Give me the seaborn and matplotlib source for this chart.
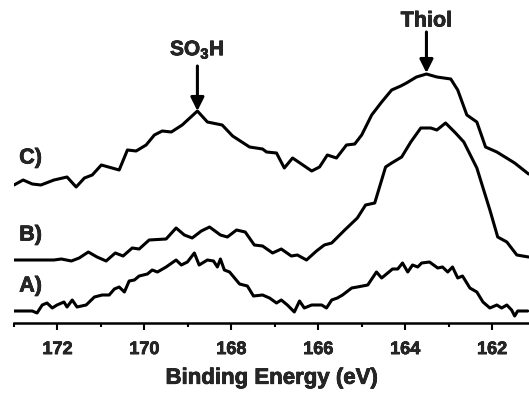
import matplotlib
matplotlib.use("Agg")
import matplotlib.pyplot as plt
import matplotlib.patheffects as pe
import seaborn as sns
import pandas as pd
from matplotlib.ticker import MultipleLocator

# Binding energy (eV) and intensity (arbitrary units, offset traces)
c_ev = [173.00,172.79,172.58,172.38,172.08,171.78,171.57,171.38,171.20,170.99,
        170.58,170.39,170.19,169.96,169.77,169.59,169.38,169.13,168.78,168.55,
        168.21,167.97,167.58,167.28,167.19,166.96,166.78,166.59,166.15,165.97,
        165.79,165.58,165.35,165.16,165.00,164.77,164.54,164.31,164.10,163.97,
        163.74,163.51,163.27,162.95,162.79,162.58,162.35,162.15,161.89,161.48,
        161.16]
c_int = [138,143,139,138,143,146,136,145,148,158,
         153,173,172,178,188,192,191,198,212,201,
         198,187,176,174,171,170,155,165,152,156,
         168,165,178,179,188,208,221,233,237,240,
         246,249,246,244,233,208,201,176,171,160,
         149]

b_ev = [173.00,172.08,171.91,171.68,171.50,171.29,171.09,170.88,170.67,170.49,
        170.28,170.12,169.89,169.50,169.27,169.08,168.90,168.69,168.50,168.25,
        168.09,167.88,167.68,167.47,167.28,167.05,166.85,166.62,166.48,166.27,
        166.04,165.86,165.69,165.39,165.10,164.91,164.70,164.45,164.31,164.08,
        163.87,163.64,163.41,163.27,163.07,162.84,162.65,162.35,162.05,161.87,
        161.66,161.43,161.16]
b_int = [63,63,64,62,65,71,66,62,70,67,
         75,74,83,84,95,88,85,92,96,88,
         86,93,91,78,77,70,74,67,68,63,
         72,78,80,93,105,118,120,156,160,166,
         181,195,195,193,200,190,181,155,113,86,
         81,68,66]

a_ev = [173.00,172.58,172.47,172.35,172.24,172.12,172.01,171.85,171.78,171.66,
        171.55,171.34,171.15,170.97,170.81,170.69,170.58,170.46,170.35,170.23,
        170.12,169.93,169.82,169.70,169.50,169.27,169.15,169.01,168.85,168.74,
        168.55,168.41,168.32,168.25,168.16,168.04,167.81,167.63,167.49,167.28,
        167.12,166.96,166.85,166.71,166.55,166.43,166.32,166.15,165.92,165.81,
        165.69,165.56,165.44,165.23,165.10,164.86,164.66,164.54,164.29,164.17,
        164.06,163.94,163.83,163.71,163.62,163.44,163.25,163.14,163.02,162.91,
        162.79,162.68,162.51,162.35,162.21,162.05,161.89,161.78,161.66,161.55,
        161.48,161.41,161.18]
a_int = [12,12,10,18,20,15,18,21,16,23,
         16,18,26,28,28,34,36,31,42,43,
         47,49,53,51,56,63,58,61,70,58,
         63,62,56,64,53,51,39,37,27,28,
         25,20,23,18,11,22,15,18,18,15,
         23,25,28,35,36,38,51,45,54,54,
         60,51,58,56,60,61,55,56,51,56,
         45,47,35,31,21,15,18,15,18,13,
         7,12,12]

trace_labels = ["A)", "B)", "C)"]
label_y = [37, 88, 165]
xticks = [172, 170, 168, 166, 164, 162]

sns.set_style("white")
plt.rcParams["font.family"] = ["Liberation Sans", "DejaVu Sans"]
plt.rcParams["mathtext.fontset"] = "custom"
plt.rcParams["mathtext.rm"] = "Liberation Sans:bold"
plt.rcParams["mathtext.bf"] = "Liberation Sans:bold"

heavy = [pe.withStroke(linewidth=0.5, foreground="black")]

df = pd.concat([
    pd.DataFrame({"ev": a_ev, "int": a_int, "trace": "A"}),
    pd.DataFrame({"ev": b_ev, "int": b_int, "trace": "B"}),
    pd.DataFrame({"ev": c_ev, "int": c_int, "trace": "C"}),
])

fig = plt.figure(figsize=(5.29, 3.93), dpi=100)
ax = fig.add_axes([14/529, 70/393, 515/529, 323/393])
sns.lineplot(data=df, x="ev", y="int", units="trace", estimator=None,
             color="black", lw=2.2, ax=ax, legend=False)

ax.set_xlim(173.0, 161.15)
ax.set_ylim(0, 323)
for s in ["top", "right", "left"]:
    ax.spines[s].set_visible(False)
ax.spines["bottom"].set_linewidth(1.8)
ax.spines["bottom"].set_color("black")
ax.set_yticks([])
ax.set_xticks(xticks)
ax.set_xticklabels([str(t) for t in xticks], fontsize=13, fontweight="bold")
for t in ax.get_xticklabels():
    t.set_path_effects(heavy)
ax.xaxis.set_minor_locator(MultipleLocator(1))
ax.tick_params(axis="x", which="major", direction="out", length=5, width=1.5,
               pad=8, bottom=True, color="black")
ax.tick_params(axis="x", which="minor", direction="out", length=3, width=1.5,
               bottom=True, color="black")
ax.set_xlabel("Binding Energy (eV)", fontsize=16, fontweight="bold", labelpad=7,
              path_effects=heavy)
ax.set_ylabel("")

for lab, yy in zip(trace_labels, label_y):
    ax.text(172.88, yy, lab, fontsize=15.5, fontweight="bold", ha="left", va="center",
            path_effects=heavy)

ax.annotate("", xy=(168.78, 212), xytext=(168.78, 257),
            arrowprops=dict(arrowstyle="-|>", color="black", lw=2.2, mutation_scale=20,
                            shrinkA=0, shrinkB=0))
ax.text(168.78, 273, "SO$_3$H", fontsize=15, fontweight="bold", ha="center", va="center",
        path_effects=heavy)

ax.annotate("", xy=(163.51, 250), xytext=(163.51, 291),
            arrowprops=dict(arrowstyle="-|>", color="black", lw=2.2, mutation_scale=20,
                            shrinkA=0, shrinkB=0))
ax.text(163.51, 302, "Thiol", fontsize=15.5, fontweight="bold", ha="center", va="center",
        path_effects=heavy)

fig.savefig("out.png", dpi=100)
